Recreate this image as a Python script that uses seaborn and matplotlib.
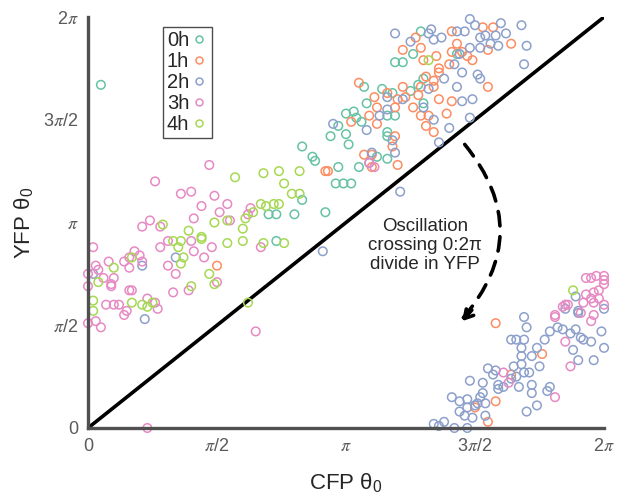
import numpy as np
import pandas as pd
import matplotlib.pyplot as plt
from matplotlib.lines import Line2D
import seaborn as sns

sns.set_style("white")
plt.rcParams['font.family'] = ['Liberation Sans', 'DejaVu Sans']
plt.rcParams['mathtext.fontset'] = 'custom'
plt.rcParams['mathtext.rm'] = 'Liberation Sans'
plt.rcParams['mathtext.it'] = 'STIXGeneral:italic'

# initial phases, in units of pi
hours = ["0h", "1h", "2h", "3h", "4h"]
colors = ["#66c2a5", "#fc8d62", "#8da0cb", "#e78ac3", "#a6d854"]

cfp_0h = [0.05, 1.29, 1.26, 1.22, 1.19, 1.07, 1.14, 1.18, 1.08, 1.16, 1.19, 1.00, 1.03, 1.04, 1.06,
          0.97, 0.94, 1.00, 1.01, 1.16, 1.16, 0.83, 0.87, 0.88, 0.97, 1.05, 1.16, 0.96, 0.99, 1.02,
          1.25, 1.28, 1.30, 1.30, 0.83, 0.80, 0.73, 0.70, 0.73, 0.92, 1.12, 1.43]
yfp_0h = [1.67, 1.93, 1.82, 1.78, 1.78, 1.66, 1.65, 1.63, 1.58, 1.52, 1.52, 1.53, 1.54, 1.51, 1.49,
          1.47, 1.42, 1.43, 1.38, 1.44, 1.42, 1.37, 1.32, 1.30, 1.27, 1.27, 1.31, 1.19, 1.19, 1.19,
          1.64, 1.67, 1.58, 1.70, 1.11, 1.04, 1.04, 1.04, 0.91, 1.05, 1.32, 1.82]

cfp_1h = [1.27, 1.29, 1.22, 1.41, 1.43, 1.41, 1.45, 1.47, 1.49, 1.55, 1.64, 1.53, 1.57, 1.35, 1.30,
          1.40, 1.36, 1.36, 1.31, 1.34, 1.34, 1.29, 1.28, 1.22, 1.20, 1.23, 1.26, 1.36, 1.41, 1.29,
          1.32, 1.39, 1.31, 1.34, 1.55, 1.05, 1.11, 1.16, 1.19, 1.12, 1.09, 1.02, 1.12, 1.18, 1.19,
          1.07, 1.10, 0.93, 1.20, 1.10, 0.50, 0.92,
          1.58, 1.76, 1.64, 1.58, 1.50, 1.55]
yfp_1h = [1.90, 1.85, 1.84, 1.93, 1.87, 1.83, 1.83, 1.81, 1.79, 1.84, 1.87, 1.95, 1.95, 1.81, 1.79,
          1.77, 1.75, 1.73, 1.71, 1.69, 1.66, 1.66, 1.62, 1.66, 1.60, 1.61, 1.56, 1.60, 1.59, 1.52,
          1.52, 1.53, 1.47, 1.44, 1.66, 1.68, 1.61, 1.63, 1.56, 1.56, 1.52, 1.49, 1.48, 1.37, 1.42,
          1.33, 1.33, 1.25, 1.28, 1.27, 0.79, 1.25,
          0.51, 0.36, 0.26, 0.13, 0.10, 0.03]

cfp_2h = [1.48, 1.50, 1.60, 1.68, 1.62, 1.58, 1.54, 1.52, 1.56, 1.59, 1.70, 1.52, 1.48, 1.46, 1.43,
          1.37, 1.33, 1.32, 1.34, 1.25, 1.19, 1.44, 1.42, 1.45, 1.51, 1.52, 1.69, 1.38, 1.43, 1.32,
          1.45, 1.49, 1.48, 1.34, 1.40, 1.36, 1.30, 1.22, 1.16, 1.16, 1.13, 0.95, 1.08, 1.19, 1.18,
          1.21, 1.10, 1.09, 0.91,
          0.21, 0.34, 0.22, 0.02,
          1.34, 1.36, 1.38, 1.42, 1.47, 1.41, 1.44, 1.47, 1.47, 1.50, 1.51, 1.44, 1.46, 1.49, 1.54,
          1.48, 1.53, 1.52, 1.54, 1.53, 1.55, 1.58, 1.57, 1.59, 1.61, 1.59, 1.64, 1.67, 1.66, 1.69,
          1.71, 1.68, 1.65, 1.68, 1.72, 1.75, 1.72, 1.72, 1.78, 1.79, 1.74, 1.70, 1.64, 1.66, 1.69,
          1.68, 1.70, 1.69, 1.74, 1.77, 1.79, 1.82, 1.84, 1.87, 1.89, 1.91, 1.92, 1.95, 1.99, 1.88,
          1.90, 1.96, 2.00, 2.00, 1.89, 1.90, 1.90, 1.85]
yfp_2h = [1.99, 1.96, 1.97, 1.96, 1.92, 1.91, 1.91, 1.90, 1.87, 1.86, 1.86, 1.85, 1.85, 1.93, 1.93,
          1.90, 1.94, 1.92, 1.89, 1.88, 1.92, 1.82, 1.77, 1.73, 1.72, 1.70, 1.77, 1.70, 1.66, 1.65,
          1.59, 1.60, 1.51, 1.50, 1.46, 1.39, 1.56, 1.60, 1.61, 1.55, 1.52, 1.48, 1.45, 1.34, 1.40,
          1.15, 1.34, 1.29, 0.86,
          0.79, 0.83, 0.53, 0.75,
          0.02, 0.01, 0.03, 0.00, 0.00, 0.15, 0.13, 0.14, 0.10, 0.11, 0.12, 0.08, 0.06, 0.05, 0.06,
          0.23, 0.22, 0.15, 0.12, 0.17, 0.29, 0.28, 0.26, 0.21, 0.20, 0.19, 0.24, 0.20, 0.25, 0.27,
          0.27, 0.31, 0.30, 0.35, 0.35, 0.30, 0.21, 0.17, 0.18, 0.20, 0.11, 0.08, 0.43, 0.43, 0.43,
          0.39, 0.49, 0.54, 0.39, 0.43, 0.47, 0.49, 0.48, 0.46, 0.48, 0.44, 0.43, 0.42, 0.47, 0.38,
          0.33, 0.33, 0.39, 0.58, 0.64, 0.57, 0.56, 0.58]

cfp_3h = [0.47, 0.26, 0.36, 0.40, 0.49, 0.54, 0.44, 0.51, 0.41, 0.24, 0.21, 0.28, 0.31, 0.28, 0.40,
          0.41, 0.48, 0.45, 0.18, 0.20, 0.16, 0.14, 0.21, 0.31, 0.34, 0.08, 0.03, 0.04, 0.02, 0.10,
          0.06, 0.09, 0.09, 0.00, 0.00, 0.16, 0.16, 0.17, 0.23, 0.26, 0.27, 0.33, 0.39, 0.50, 0.07,
          0.10, 0.12, 0.15, 0.14, 0.03, 0.05, 0.00, 0.65, 0.63, 0.67, 0.55, 0.62, 0.23, 1.11, 1.09,
          1.93, 1.95, 1.97, 2.00, 2.00, 2.00, 1.93, 1.96, 1.98, 1.98, 1.96, 1.92, 1.95, 1.85, 1.84,
          1.86, 1.91, 1.96, 1.95, 2.00, 1.81, 1.81, 1.85, 1.87, 1.81, 1.61, 1.63]
yfp_3h = [1.28, 1.20, 1.14, 1.15, 1.13, 1.09, 1.08, 1.05, 1.02, 1.01, 0.98, 0.98, 0.91, 0.88, 0.91,
          0.86, 0.88, 0.83, 0.86, 0.84, 0.83, 0.81, 0.81, 0.79, 0.75, 0.81, 0.79, 0.77, 0.88, 0.73,
          0.73, 0.70, 0.69, 0.75, 0.69, 0.78, 0.67, 0.67, 0.63, 0.61, 0.58, 0.66, 0.67, 0.71, 0.60,
          0.60, 0.60, 0.57, 0.55, 0.52, 0.49, 0.51, 0.47, 1.07, 0.88, 1.01, 1.04, 0.00, 1.27, 1.29,
          0.73, 0.73, 0.74, 0.74, 0.72, 0.70, 0.65, 0.66, 0.67, 0.63, 0.61, 0.61, 0.63, 0.60, 0.59,
          0.60, 0.56, 0.55, 0.52, 0.60, 0.55, 0.54, 0.42, 0.30, 0.15, 0.27, 0.22]

cfp_4h = [0.57, 0.68, 0.74, 0.82, 0.76, 0.79, 0.82, 0.72, 0.74, 0.67, 0.69, 0.64, 0.61, 0.60, 0.49,
          0.54, 0.44, 0.54, 0.60, 0.68, 0.76, 0.47, 0.49, 0.29, 0.39, 0.33, 0.36, 0.35, 0.44, 0.37,
          0.36, 0.17, 0.10, 0.04, 0.02, 0.02, 0.17, 0.21, 0.23, 0.25, 0.40, 0.62, 1.88, 1.32]
yfp_4h = [1.22, 1.24, 1.25, 1.25, 1.19, 1.14, 1.14, 1.09, 1.09, 1.09, 1.08, 1.05, 1.02, 0.97, 1.00,
          1.01, 0.93, 0.90, 0.91, 0.90, 0.90, 0.75, 0.70, 0.99, 0.96, 0.91, 0.91, 0.88, 0.92, 0.83,
          0.80, 0.83, 0.78, 0.71, 0.62, 0.57, 0.61, 0.60, 0.59, 0.61, 0.69, 0.61, 0.67, 1.79]

cfp = [cfp_0h, cfp_1h, cfp_2h, cfp_3h, cfp_4h]
yfp = [yfp_0h, yfp_1h, yfp_2h, yfp_3h, yfp_4h]
df = pd.concat([pd.DataFrame({"cfp": np.array(x) * np.pi, "yfp": np.array(y) * np.pi, "time": h})
                for x, y, h in zip(cfp, yfp, hours)], ignore_index=True)

tick_vals = [0, np.pi / 2, np.pi, 3 * np.pi / 2, 2 * np.pi]
tick_labels = ["0", r"$\pi$/2", r"$\pi$", r"3$\pi$/2", r"2$\pi$"]

fig = plt.figure(figsize=(6.18, 5.0), dpi=100)
ax = fig.add_axes([0.1424, 0.144, 0.835, 0.822])

ax.plot([0, 2 * np.pi], [0, 2 * np.pi], color="black", lw=2.6, zorder=1)

sns.scatterplot(data=df, x="cfp", y="yfp", hue="time", hue_order=hours,
                palette=colors, s=38, linewidth=1.1, legend=False, ax=ax, zorder=2)
pts = ax.collections[-1]
pts.set_edgecolors(pts.get_facecolors())
pts.set_facecolors("none")
pts.set_clip_on(False)

ax.set_xlim(0, 2 * np.pi)
ax.set_ylim(0, 2 * np.pi)
ax.set_xticks(tick_vals)
ax.set_xticklabels(tick_labels)
ax.set_yticks(tick_vals)
ax.set_yticklabels(tick_labels)
ax.tick_params(direction="in", length=6, width=2.2, colors="#505050",
               labelsize=13, labelcolor="#5a5a5a", pad=7)
ax.set_xlabel("CFP θ$_0$", fontsize=16, labelpad=12)
ax.set_ylabel("YFP θ$_0$", fontsize=16, labelpad=6)
sns.despine(ax=ax)
for side in ["left", "bottom"]:
    ax.spines[side].set_linewidth(2.4)
    ax.spines[side].set_color("#505050")

# legend: label then small open marker
handles = [Line2D([], [], marker="o", ls="none", markerfacecolor="none",
                  markeredgecolor=c, markersize=5, markeredgewidth=1.1) for c in colors]
leg = ax.legend(handles, hours, loc="upper left", bbox_to_anchor=(0.145, 0.975),
                markerfirst=False, frameon=True, fancybox=False, edgecolor="#222222",
                fontsize=14.5, handlelength=0.9, handletextpad=0.05, labelspacing=0.1,
                borderpad=0.2, borderaxespad=0)
leg.get_frame().set_linewidth(1.0)

ax.text(1.306 * np.pi, 0.89 * np.pi, "Oscillation\ncrossing 0:2π\ndivide in YFP",
        ha="center", va="center", fontsize=13.5, linespacing=1.15)
ax.annotate("", xy=(1.45 * np.pi, 0.53 * np.pi), xytext=(1.46 * np.pi, 1.38 * np.pi),
            arrowprops=dict(arrowstyle="-", lw=2.6, linestyle=(0, (4, 3)), color="black",
                            connectionstyle="arc3,rad=-0.42", shrinkA=0, shrinkB=0))
ax.annotate("", xy=(1.45 * np.pi, 0.52 * np.pi), xytext=(7, 8), textcoords="offset points",
            arrowprops=dict(arrowstyle="->,head_length=0.6,head_width=0.35", lw=2.6,
                            color="black", shrinkA=0, shrinkB=0))

fig.savefig("out.png", dpi=100)
